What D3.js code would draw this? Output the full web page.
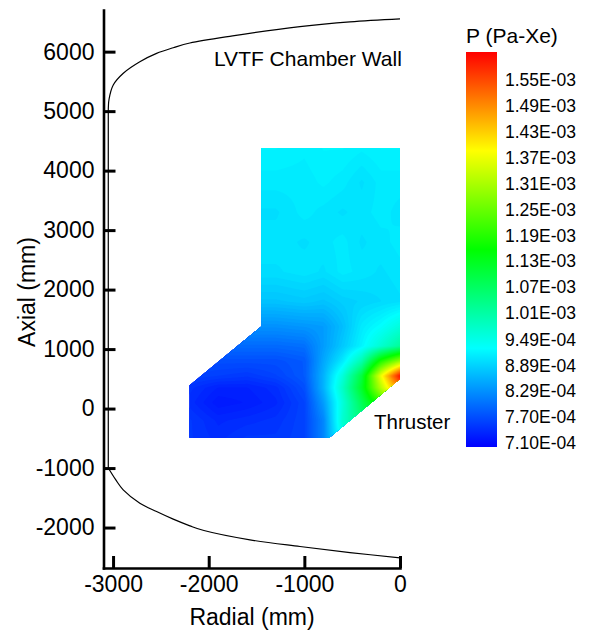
<!DOCTYPE html>
<html>
<head>
<meta charset="utf-8" />
<title>P (Pa-Xe)</title>
<script src="https://cdnjs.cloudflare.com/ajax/libs/d3/7.8.5/d3.min.js"></script>
<style>
    body { margin: 0; background: #fff; }
    svg { display: block; font-family: "Liberation Sans", Arial, sans-serif; }
</style>
</head>
<body>
<div id="chart"></div>
<script>
// measurement grid, mm
var gridX = [-2200, -1900, -1600, -1300, -1000, -800, -600, -400, -200, 0];
var gridY = [-490, -200, 100, 350, 550, 800, 1050, 1380, 1800, 2300, 2800, 3300, 3800, 4380];
// pressure in units of 1E-04 Pa, one row per gridY
var gridP = [
    [7.5, 7.4, 7.5, 7.5, 7.6, 8.2, 9.5, 10.4, 11.0, 11.5],
    [7.5, 7.35, 7.4, 7.45, 7.6, 8.2, 9.7, 10.5, 11.5, 12.0],
    [7.4, 7.2, 7.25, 7.35, 7.6, 8.4, 9.6, 10.8, 12.0, 12.5],
    [7.45, 7.3, 7.3, 7.4, 7.7, 8.6, 9.8, 11.2, 13.2, 15.0],
    [7.6, 7.55, 7.5, 7.6, 7.8, 8.6, 9.6, 11.0, 13.7, 16.0],
    [7.75, 7.7, 7.7, 7.7, 7.8, 8.5, 9.1, 10.0, 11.8, 12.9],
    [7.95, 7.95, 7.95, 7.95, 8.0, 8.4, 8.8, 9.2, 9.7, 10.2],
    [8.3, 8.3, 8.3, 8.3, 8.35, 8.4, 8.7, 9.1, 9.3, 9.6],
    [8.75, 8.75, 8.75, 8.75, 8.8, 8.75, 8.85, 8.9, 8.95, 9.0],
    [9.0, 9.0, 9.0, 9.0, 9.05, 9.0, 9.1, 9.05, 9.0, 9.05],
    [9.05, 9.05, 9.05, 9.05, 9.0, 9.05, 9.1, 9.0, 9.05, 9.1],
    [9.0, 9.0, 9.0, 9.0, 9.1, 9.05, 9.0, 9.05, 9.1, 9.05],
    [9.1, 9.1, 9.1, 9.1, 9.1, 9.15, 9.1, 9.0, 9.1, 9.1],
    [9.2, 9.2, 9.2, 9.2, 9.15, 9.2, 9.2, 9.15, 9.2, 9.2]
];
// outline of the measured zone
var region = [[-1450, 4380], [0, 4380], [0, 500], [-740, -490], [-2200, -490], [-2200, 390], [-1450, 1380]];

// chamber wall
var wallTop = [[-3050, 5000], [-3042, 5200], [-2998, 5440], [-2893, 5637], [-2720, 5830], [-2545, 5970],
    [-2371, 6065], [-2197, 6145], [-1750, 6265], [-1046, 6420], [-523, 6500], [0, 6550]];
var wallSide = [[-3050, -1000], [-3050, 5000]];
var wallBottom = [[-3050, -1000], [-2971, -1200], [-2894, -1366], [-2720, -1590], [-2545, -1731],
    [-2371, -1859], [-2197, -1971], [-2050, -2050], [-1569, -2207], [-1046, -2319], [-523, -2420], [0, -2510]];

// legend
var legendLevels = [7.10e-4, 7.70e-4, 8.29e-4, 8.89e-4, 9.49e-4, 1.01e-3, 1.07e-3, 1.13e-3,
    1.19e-3, 1.25e-3, 1.31e-3, 1.37e-3, 1.43e-3, 1.49e-3, 1.55e-3];
var colorStops = ["#0000ff", "#00ffff", "#00ff00", "#ffff00", "#ff0000"];
var pMin = 7.0e-4, pMax = 1.615e-3;

var width = 603, height = 632;

var svg = d3.select("#chart").append("svg")
    .attr("width", width)
    .attr("height", height);

var x = d3.scaleLinear().domain([-3100, 0]).range([103.5, 400]);
var y = d3.scaleLinear().domain([-2680, 6700]).range([568, 10]);

var color = d3.scaleLinear()
    .domain(d3.range(colorStops.length).map(function (k) { return pMin + k * (pMax - pMin) / (colorStops.length - 1); }))
    .range(colorStops)
    .clamp(true);

// bilinear lookup in the grid
function pAt(X, Y) {
    X = Math.max(gridX[0], Math.min(gridX[gridX.length - 1], X));
    Y = Math.max(gridY[0], Math.min(gridY[gridY.length - 1], Y));
    var i = Math.min(gridX.length - 2, Math.max(0, d3.bisectRight(gridX, X) - 1));
    var j = Math.min(gridY.length - 2, Math.max(0, d3.bisectRight(gridY, Y) - 1));
    var tx = (X - gridX[i]) / (gridX[i + 1] - gridX[i]);
    var ty = (Y - gridY[j]) / (gridY[j + 1] - gridY[j]);
    var a = gridP[j][i] * (1 - tx) + gridP[j][i + 1] * tx;
    var b = gridP[j + 1][i] * (1 - tx) + gridP[j + 1][i + 1] * tx;
    return (a * (1 - ty) + b * ty) * 1e-4;
}

// sample the field finely, then fill contour bands
var nx = 240, ny = 320;
var sX0 = -2260, sX1 = 60, sY0 = -560, sY1 = 4450;
var samples = new Array(nx * ny);
for (var j = 0; j < ny; j++) {
    var Yv = sY1 - (j + 0.5) * (sY1 - sY0) / ny;
    for (var i = 0; i < nx; i++) {
        var Xv = sX0 + (i + 0.5) * (sX1 - sX0) / nx;
        samples[j * nx + i] = pAt(Xv, Yv);
    }
}
var nLevels = 150;
var step = (pMax - pMin) / nLevels;
var sMin = d3.min(samples);
var thresholds = [sMin - 1e-9].concat(d3.range(1, nLevels).map(function (k) { return pMin + k * step; })
    .filter(function (t) { return t > sMin; }));

var bands = d3.contours().size([nx, ny]).thresholds(thresholds)(samples);

var toScreen = d3.geoTransform({
    point: function (gx, gy) {
        var X = sX0 + gx * (sX1 - sX0) / nx;
        var Y = sY1 - gy * (sY1 - sY0) / ny;
        this.stream.point(x(X), y(Y));
    }
});
var path = d3.geoPath(toScreen);

svg.append("clipPath").attr("id", "zone")
    .append("polygon")
    .attr("points", region.map(function (d) { return x(d[0]) + "," + y(d[1]); }).join(" "));

svg.append("g")
    .attr("clip-path", "url(#zone)")
    .selectAll("path")
    .data(bands)
    .join("path")
    .attr("d", path)
    .attr("fill", function (d) { return color(d.value + step / 2); });

// chamber wall
var wallLine = d3.line().x(function (d) { return x(d[0]); }).y(function (d) { return y(d[1]); });
var wall = svg.append("g").attr("fill", "none").attr("stroke", "#000").attr("stroke-width", 1.2);
wall.append("path").attr("d", wallLine.curve(d3.curveCatmullRom)(wallTop));
wall.append("path").attr("d", wallLine.curve(d3.curveCatmullRom)(wallBottom));
wall.append("path").attr("d", wallLine.curve(d3.curveLinear)(wallSide));

// axes: ticks inside
function minorOf(domain, majors) {
    return d3.range(Math.ceil(domain[0] / 200) * 200, domain[1] + 1, 200)
        .filter(function (v) { return majors.indexOf(v) < 0; });
}
var xMajor = [-3000, -2000, -1000, 0];
var yMajor = d3.range(-2000, 6001, 1000);
var plain = function (d) { return String(d); };

var gx = svg.append("g").attr("transform", "translate(0,568)");
gx.call(d3.axisBottom(x).tickValues(minorOf(x.domain(), xMajor)).tickSize(-6).tickSizeOuter(0).tickFormat(""));
gx.call(d3.axisBottom(x).tickValues(xMajor).tickSize(-12).tickSizeOuter(0).tickPadding(8).tickFormat(plain));

var gy = svg.append("g").attr("transform", "translate(103.5,0)");
gy.call(d3.axisLeft(y).tickValues(minorOf(y.domain(), yMajor)).tickSize(-7).tickSizeOuter(0).tickFormat(""));
gy.call(d3.axisLeft(y).tickValues(yMajor).tickSize(-12).tickSizeOuter(0).tickPadding(9).tickFormat(plain));

svg.selectAll(".domain").attr("stroke-width", 2.6).attr("stroke-linecap", "square");
svg.selectAll(".tick line").attr("stroke-width", 1.5);
gx.selectAll(".tick").filter(function (d) { return xMajor.indexOf(d) >= 0; }).select("line").attr("stroke-width", 3);
gy.selectAll(".tick").filter(function (d) { return yMajor.indexOf(d) >= 0; }).select("line").attr("stroke-width", 3);
svg.selectAll(".tick text").attr("font-size", 23).attr("fill", "#000");
gx.attr("font-family", null).attr("font-size", null);
gy.attr("font-family", null).attr("font-size", null);

svg.append("text")
    .attr("x", 252).attr("y", 625)
    .attr("text-anchor", "middle")
    .attr("font-size", 23)
    .text("Radial (mm)");

svg.append("text")
    .attr("transform", "translate(35,292) rotate(-90)")
    .attr("text-anchor", "middle")
    .attr("font-size", 23)
    .text("Axial (mm)");

svg.append("text")
    .attr("x", 214).attr("y", 66)
    .attr("font-size", 21)
    .text("LVTF Chamber Wall");

svg.append("text")
    .attr("x", 374).attr("y", 429)
    .attr("font-size", 20.5)
    .text("Thruster");

// colour legend
var ly = d3.scaleLinear().domain([pMin, pMax]).range([447, 52]);

var grad = svg.append("defs").append("linearGradient")
    .attr("id", "bar").attr("x1", 0).attr("y1", 1).attr("x2", 0).attr("y2", 0);
grad.selectAll("stop")
    .data(colorStops)
    .join("stop")
    .attr("offset", function (d, k) { return k / (colorStops.length - 1); })
    .attr("stop-color", function (d) { return d; });

svg.append("rect")
    .attr("x", 466).attr("y", ly(pMax))
    .attr("width", 31).attr("height", ly(pMin) - ly(pMax))
    .attr("fill", "url(#bar)");

function sci(v) {
    var s = v.toExponential(2).split("e");
    var e = +s[1];
    return s[0] + "E" + (e < 0 ? "-" : "+") + d3.format("02d")(Math.abs(e));
}

svg.append("g")
    .selectAll("text")
    .data(legendLevels)
    .join("text")
    .attr("x", 505)
    .attr("y", function (d) { return ly(d); })
    .attr("dy", "0.35em")
    .attr("font-size", 17.5)
    .text(sci);

svg.append("text")
    .attr("x", 466).attr("y", 43)
    .attr("font-size", 21)
    .text("P (Pa-Xe)");
</script>
</body>
</html>
